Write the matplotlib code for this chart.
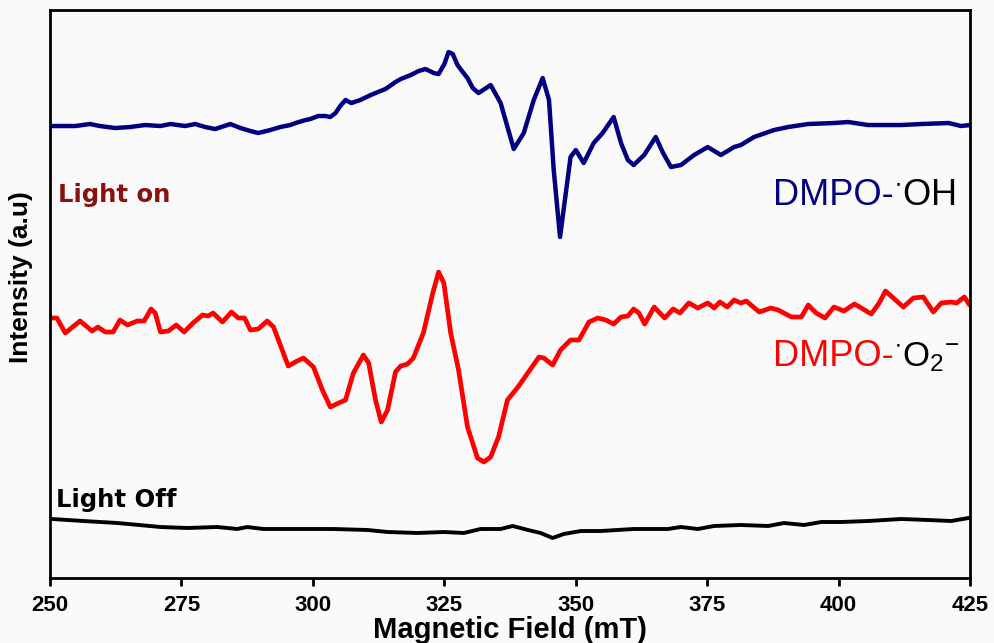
import matplotlib
matplotlib.use('Agg')
import matplotlib.pyplot as plt
import numpy as np

# EPR spectra, field in mT, intensity in arbitrary units (stacked offsets included)
field_oh = [250.0, 251.9, 254.8, 257.6, 259.5, 262.4, 265.2, 268.1, 271.0, 272.9,
            275.7, 277.6, 279.5, 281.4, 284.3, 286.2, 288.1, 289.6, 291.9, 293.8,
            295.7, 296.7, 298.6, 299.5, 301.0, 302.4, 303.3, 304.3, 305.2, 306.2,
            307.3, 309.0, 311.0, 311.9, 313.8, 315.7, 316.7, 318.6, 320.1, 321.4,
            323.0, 323.9, 325.0, 325.8, 326.6, 327.5, 328.5, 329.4, 330.4, 331.5,
            333.8, 335.7, 338.2, 340.1, 342.0, 343.7, 344.9, 345.8, 347.0, 348.1,
            349.0, 350.0, 351.5, 353.4, 355.1, 357.2, 358.6, 359.9, 361.0, 363.0,
            365.2, 366.6, 368.1, 370.0, 372.5, 375.1, 377.6, 380.1, 381.4, 383.9,
            387.7, 390.4, 394.2, 399.1, 401.8, 405.6, 411.9, 415.7, 420.9, 423.3,
            425.0]
int_oh = [452, 452, 452, 454, 452, 450, 451, 453, 452, 454,
          452, 454, 451, 449, 454, 450, 447, 445, 448, 451,
          453, 455, 458, 459, 462, 462, 461, 465, 472, 478,
          475, 478, 483, 485, 489, 496, 499, 503, 507, 509,
          505, 504, 514, 526, 524, 513, 506, 500, 490, 485,
          493, 475, 429, 445, 478, 500, 478, 408, 341, 385,
          421, 428, 415, 435, 445, 461, 435, 418, 413, 423,
          441, 425, 411, 413, 423, 431, 423, 431, 433, 441,
          448, 451, 454, 455, 456, 453, 453, 454, 455, 452,
          453]

field_o2 = [250.4, 251.3, 252.9, 255.7, 258.0, 259.1, 260.5, 262.0, 263.3, 264.7,
            266.6, 267.9, 269.2, 270.0, 271.0, 272.5, 274.0, 275.5, 277.2, 279.0,
            280.1, 281.0, 282.8, 284.5, 285.8, 287.0, 288.1, 289.6, 291.3, 292.5,
            293.8, 295.3, 297.0, 298.2, 300.1, 301.8, 303.3, 304.9, 306.2, 307.7,
            309.6, 310.6, 311.9, 313.0, 314.2, 315.7, 316.7, 318.0, 319.1, 321.0,
            322.8, 323.9, 324.9, 326.2, 327.7, 329.4, 331.3, 332.5, 333.8, 335.3,
            337.0, 339.0, 341.0, 343.0, 343.9, 345.6, 347.1, 349.0, 350.6, 352.5,
            354.2, 355.7, 357.2, 358.6, 359.9, 361.0, 362.0, 363.1, 364.9, 366.9,
            368.5, 369.8, 371.5, 373.2, 375.1, 376.3, 377.4, 378.8, 380.1, 381.4,
            382.4, 384.9, 387.1, 388.5, 391.0, 392.9, 394.2, 395.7, 397.4, 399.1,
            401.0, 403.0, 404.3, 406.2, 407.7, 408.9, 410.4, 412.3, 414.2, 416.1,
            418.0, 419.5, 421.4, 422.4, 423.9, 424.9]
int_o2 = [260, 260, 245, 257, 247, 251, 246, 246, 258, 253,
          257, 257, 269, 265, 246, 247, 253, 246, 255, 263,
          262, 265, 256, 266, 260, 260, 248, 249, 257, 251,
          233, 212, 217, 220, 211, 188, 171, 175, 178, 205,
          223, 215, 178, 156, 168, 206, 212, 214, 220, 245,
          285, 306, 295, 245, 208, 151, 120, 116, 121, 141,
          178, 191, 206, 221, 220, 213, 228, 238, 238, 256,
          260, 258, 254, 261, 262, 269, 265, 254, 271, 260,
          269, 265, 275, 270, 275, 270, 276, 271, 278, 275,
          277, 266, 270, 268, 261, 261, 273, 265, 260, 271,
          267, 274, 270, 264, 275, 287, 280, 271, 280, 281,
          266, 275, 276, 275, 281, 273]

field_off = [250.4, 256.3, 262.8, 271.0, 276.1, 281.8, 285.6, 287.5, 290.6, 297.6,
             303.9, 310.4, 314.2, 319.9, 324.9, 328.7, 331.9, 335.7, 338.0, 340.9,
             343.3, 345.6, 347.7, 351.0, 354.8, 361.0, 367.5, 370.0, 373.2, 376.3,
             381.4, 386.6, 389.6, 393.4, 396.7, 400.5, 405.6, 411.9, 417.0, 421.4,
             424.7]
int_off = [59, 57, 55, 51, 50, 51, 49, 51, 49, 49,
           49, 48, 46, 45, 46, 45, 49, 49, 52, 48,
           45, 40, 44, 47, 47, 49, 49, 51, 49, 52,
           53, 52, 55, 53, 56, 56, 57, 59, 58, 57,
           60]

x_ticks = [250, 275, 300, 325, 350, 375, 400, 425]

bg = '#fafafa'
fig = plt.figure(figsize=(9.95, 6.43), dpi=100, facecolor=bg)
ax = fig.add_axes([0.0503, 0.1011, 0.9247, 0.8833], facecolor=bg)

ax.plot(field_oh, int_oh, color='#000080', lw=3.2, solid_joinstyle='round',
        solid_capstyle='round')
ax.plot(field_o2, int_o2, color='#ff0000', lw=3.4, solid_joinstyle='round',
        solid_capstyle='round')
ax.plot(field_off, int_off, color='black', lw=2.8, solid_joinstyle='round',
        solid_capstyle='round')

ax.set_xlim(250, 425)
ax.set_ylim(0, 568)
ax.set_xticks(x_ticks)
ax.set_yticks([])
for s in ax.spines.values():
    s.set_linewidth(2.0)
ax.tick_params(axis='x', direction='out', length=6, width=2, pad=6)
for lbl in ax.get_xticklabels():
    lbl.set_fontfamily('Liberation Sans')
    lbl.set_fontweight('bold')
    lbl.set_fontsize(16)

ax.set_xlabel('Magnetic Field (mT)', fontfamily='Liberation Sans', fontweight='bold',
              fontsize=21, va='baseline')
ax.xaxis.set_label_coords(0.5, -0.1056)
ax.set_ylabel('Intensity (a.u)', fontfamily='Liberation Sans', fontweight='bold',
              fontsize=19)
ax.yaxis.set_label_coords(-0.0185, 0.53)

# condition labels
ax.text(251.6, 383, 'Light on', color='#8b1010', fontfamily='DejaVu Sans',
        fontweight='bold', fontsize=17.5, va='center')
ax.text(251.2, 78, 'Light Off', color='black', fontfamily='DejaVu Sans',
        fontweight='bold', fontsize=17.5, va='center')

# adduct labels: coloured DMPO part followed by the black radical part
t1 = ax.text(387.5, 383, 'DMPO-', color='#000080', fontfamily='Liberation Sans',
             fontsize=26, va='center')
ax.annotate(r'$\mathregular{^{\bullet}OH}$', xy=(1, 0), xycoords=t1, va='bottom',
            color='black', fontfamily='Liberation Sans', fontsize=26)
t2 = ax.text(387.6, 222, 'DMPO-', color='#ff0000', fontfamily='Liberation Sans',
             fontsize=26, va='center')
ax.annotate(r'$\mathregular{^{\bullet}O_2{}^{-}}$', xy=(1, 0), xycoords=t2,
            va='bottom', color='black', fontfamily='Liberation Sans', fontsize=25)

fig.savefig('out.png', dpi=100, facecolor=bg)
